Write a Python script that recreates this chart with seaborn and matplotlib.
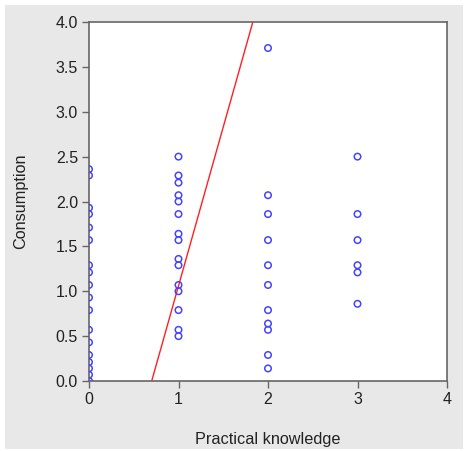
import numpy as np
import pandas as pd
import matplotlib
matplotlib.use("Agg")
import matplotlib.pyplot as plt
import seaborn as sns
from matplotlib.patches import Rectangle

# data
knowledge_0 = [2.36, 2.29, 1.93, 1.86, 1.71, 1.57, 1.29, 1.21, 1.07, 0.93,
               0.79, 0.57, 0.43, 0.29, 0.21, 0.14, 0.07, 0.0]
knowledge_1 = [2.50, 2.29, 2.21, 2.07, 2.00, 1.86, 1.64, 1.57, 1.36, 1.29,
               1.07, 1.00, 0.79, 0.57, 0.50]
knowledge_2 = [3.71, 2.07, 1.86, 1.57, 1.29, 1.07, 0.79, 0.64, 0.57, 0.29, 0.14]
knowledge_3 = [2.50, 1.86, 1.57, 1.29, 1.21, 0.86]

# fitted line (red)
line_intercept = -2.48
line_slope = 3.54

x_ticks = [0, 1, 2, 3, 4]
y_ticks = [0.0, 0.5, 1.0, 1.5, 2.0, 2.5, 3.0, 3.5, 4.0]

rows = []
for k, vals in enumerate([knowledge_0, knowledge_1, knowledge_2, knowledge_3]):
    for v in vals:
        rows.append({"Practical knowledge": k, "Consumption": v})
df = pd.DataFrame(rows)

sns.set_theme(style="white")
plt.rcParams['font.family'] = ['Liberation Sans', 'DejaVu Sans']

fig = plt.figure(figsize=(4.66, 4.51), dpi=100, facecolor='white')
# grey panel behind the plot
fig.patches.append(Rectangle((5 / 466, 2 / 451), 458 / 466, 444 / 451,
                             transform=fig.transFigure, facecolor='#e8e8e8',
                             edgecolor='none', zorder=-10))
ax = fig.add_axes([89 / 466, 1 - 381 / 451, 358 / 466, 359 / 451])
ax.set_facecolor('white')

sns.scatterplot(data=df, x="Practical knowledge", y="Consumption", ax=ax,
                marker='o', s=22, facecolors='none', edgecolor='#4444ff',
                linewidth=1.1, zorder=3)

line_x = np.array([0, 4])
sns.lineplot(x=line_x, y=line_intercept + line_slope * line_x, ax=ax,
             color='#ff2020', linewidth=1.0, zorder=2)

ax.set_xlim(0, 4)
ax.set_ylim(0, 4)
ax.set_xticks(x_ticks)
ax.set_yticks(y_ticks)
ax.set_xticklabels([str(t) for t in x_ticks])
ax.set_yticklabels([f"{t:.1f}" for t in y_ticks])

for sp in ax.spines.values():
    sp.set_color('#666666')
    sp.set_linewidth(1.2)

ax.tick_params(axis='both', which='major', direction='out', length=5,
               width=1.0, color='#666666', labelsize=11.5, labelcolor='#222222',
               left=True, bottom=True, pad=3)

ax.set_xlabel("Practical knowledge", fontsize=11.7, color='#222222', labelpad=18)
ax.set_ylabel("Consumption", fontsize=11.7, color='#222222', labelpad=20)

fig.savefig("out.png", dpi=100, facecolor=fig.get_facecolor())
